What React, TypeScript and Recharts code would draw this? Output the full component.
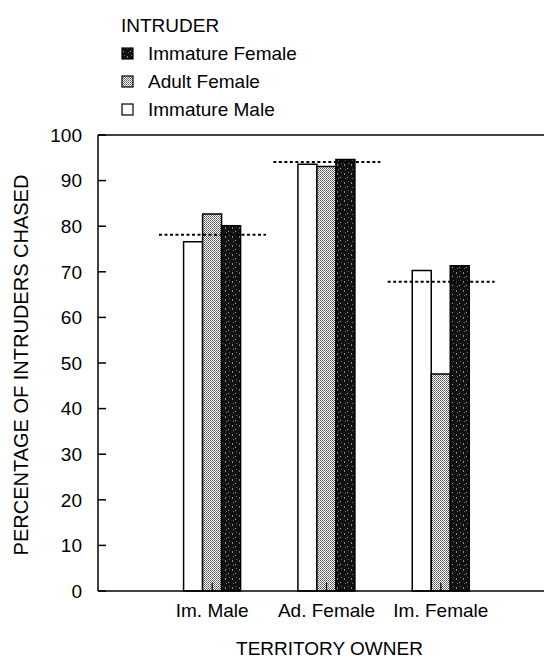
import { BarChart, Bar, XAxis, YAxis } from 'recharts';

const owners = ['Im. Male', 'Ad. Female', 'Im. Female'];
const immatureMale = [76.6, 93.6, 70.3];
const adultFemale = [82.7, 93.1, 47.6];
const immatureFemale = [80.1, 94.6, 71.3];
const ownerMean = [78.1, 94.1, 67.8];
const yTicks = [0, 10, 20, 30, 40, 50, 60, 70, 80, 90, 100];

const legendItems = [
  { label: 'Immature Female', fill: 'url(#darkFill)' },
  { label: 'Adult Female', fill: 'url(#stippleFill)' },
  { label: 'Immature Male', fill: '#fff' },
];

const data = owners.map((owner, i) => ({
  owner,
  immatureMale: immatureMale[i],
  adultFemale: adultFemale[i],
  immatureFemale: immatureFemale[i],
  mean: ownerMean[i],
}));

const FONT = '"Liberation Sans", Arial, sans-serif';

const MeanLine = (props: any) => {
  const { x, y, width } = props;
  return (
    <line x1={x} x2={x + width} y1={y} y2={y} stroke="#000" strokeWidth={2} strokeDasharray="3 2.5" />
  );
};

const YTitle = (props: any) => {
  const vb = props.viewBox;
  const cx = vb.x + 28;
  const cy = vb.y + vb.height / 2 + 2;
  return (
    <text x={cx} y={cy} transform={`rotate(-90 ${cx} ${cy})`} textAnchor="middle" fontSize={20} fill="#000">
      PERCENTAGE OF INTRUDERS CHASED
    </text>
  );
};

export default function App() {
  return (
    <div
      style={{
        position: 'absolute',
        left: 0,
        top: 0,
        width: 544,
        height: 660,
        overflow: 'hidden',
        background: '#fff',
        fontFamily: FONT,
      }}
    >
      <svg width={320} height={130} style={{ position: 'absolute', left: 0, top: 0 }}>
        <defs>
          <pattern id="stippleFill" width={2} height={2} patternUnits="userSpaceOnUse">
            <rect width={2} height={2} fill="#fff" />
            <rect x={0} y={0} width={1} height={1} fill="#555" />
            <rect x={1} y={1} width={1} height={1} fill="#777" />
          </pattern>
          <pattern id="darkFill" width={7} height={9} patternUnits="userSpaceOnUse">
            <rect width={7} height={9} fill="#111" />
            <rect x={1} y={2} width={1} height={2} fill="#888" />
            <rect x={4} y={6} width={1} height={1} fill="#aaa" />
            <rect x={5} y={1} width={1} height={1} fill="#666" />
            <rect x={2} y={7} width={1} height={1} fill="#777" />
          </pattern>
        </defs>
        <text x={121} y={32} fontSize={19} fill="#000">INTRUDER</text>
        {legendItems.map((item, i) => (
          <g key={item.label}>
            <rect x={122} y={48 + i * 28} width={11} height={11} fill={item.fill} stroke="#000" strokeWidth={1.2} />
            <text x={148} y={60 + i * 28} fontSize={19} fill="#000">{item.label}</text>
          </g>
        ))}
      </svg>
      <BarChart
        width={555}
        height={660}
        data={data}
        margin={{ top: 134, right: 0, bottom: 0, left: 0 }}
        barCategoryGap="25%"
        barGap={0}
        style={{ position: 'absolute', left: 0, top: 0 }}
      >
        <XAxis
          xAxisId="top"
          dataKey="owner"
          orientation="top"
          height={1}
          padding={{ left: 57, right: 57 }}
          tick={false}
          tickSize={-8}
          axisLine={{ stroke: '#000', strokeWidth: 1.5 }}
          tickLine={{ stroke: '#000', strokeWidth: 1.5 }}
        />
        <XAxis
          dataKey="owner"
          height={69}
          padding={{ left: 57, right: 57 }}
          tickSize={-8}
          tickMargin={21}
          tick={{ fill: '#000', fontSize: 19, fontFamily: FONT }}
          axisLine={{ stroke: '#000', strokeWidth: 1.5 }}
          tickLine={{ stroke: '#000', strokeWidth: 1.2 }}
          label={{ value: 'TERRITORY OWNER', position: 'insideBottom', offset: 5, dx: 3, fill: '#000', fontSize: 19 }}
        />
        <YAxis
          width={98}
          domain={[0, 100]}
          ticks={yTicks}
          interval={0}
          tickSize={-8}
          tickMargin={24}
          tick={{ fill: '#000', fontSize: 19, fontFamily: FONT }}
          axisLine={{ stroke: '#000', strokeWidth: 1.5 }}
          tickLine={{ stroke: '#000', strokeWidth: 1.5 }}
          label={{ content: YTitle }}
        />
        <Bar dataKey="immatureMale" fill="#fff" stroke="#000" strokeWidth={1.5} isAnimationActive={false} />
        <Bar dataKey="adultFemale" fill="url(#stippleFill)" stroke="#000" strokeWidth={1.5} isAnimationActive={false} />
        <Bar dataKey="immatureFemale" fill="url(#darkFill)" stroke="#000" strokeWidth={1.5} isAnimationActive={false} />
        <Bar xAxisId="top" dataKey="mean" barSize={107} shape={MeanLine} isAnimationActive={false} />
      </BarChart>
    </div>
  );
}
